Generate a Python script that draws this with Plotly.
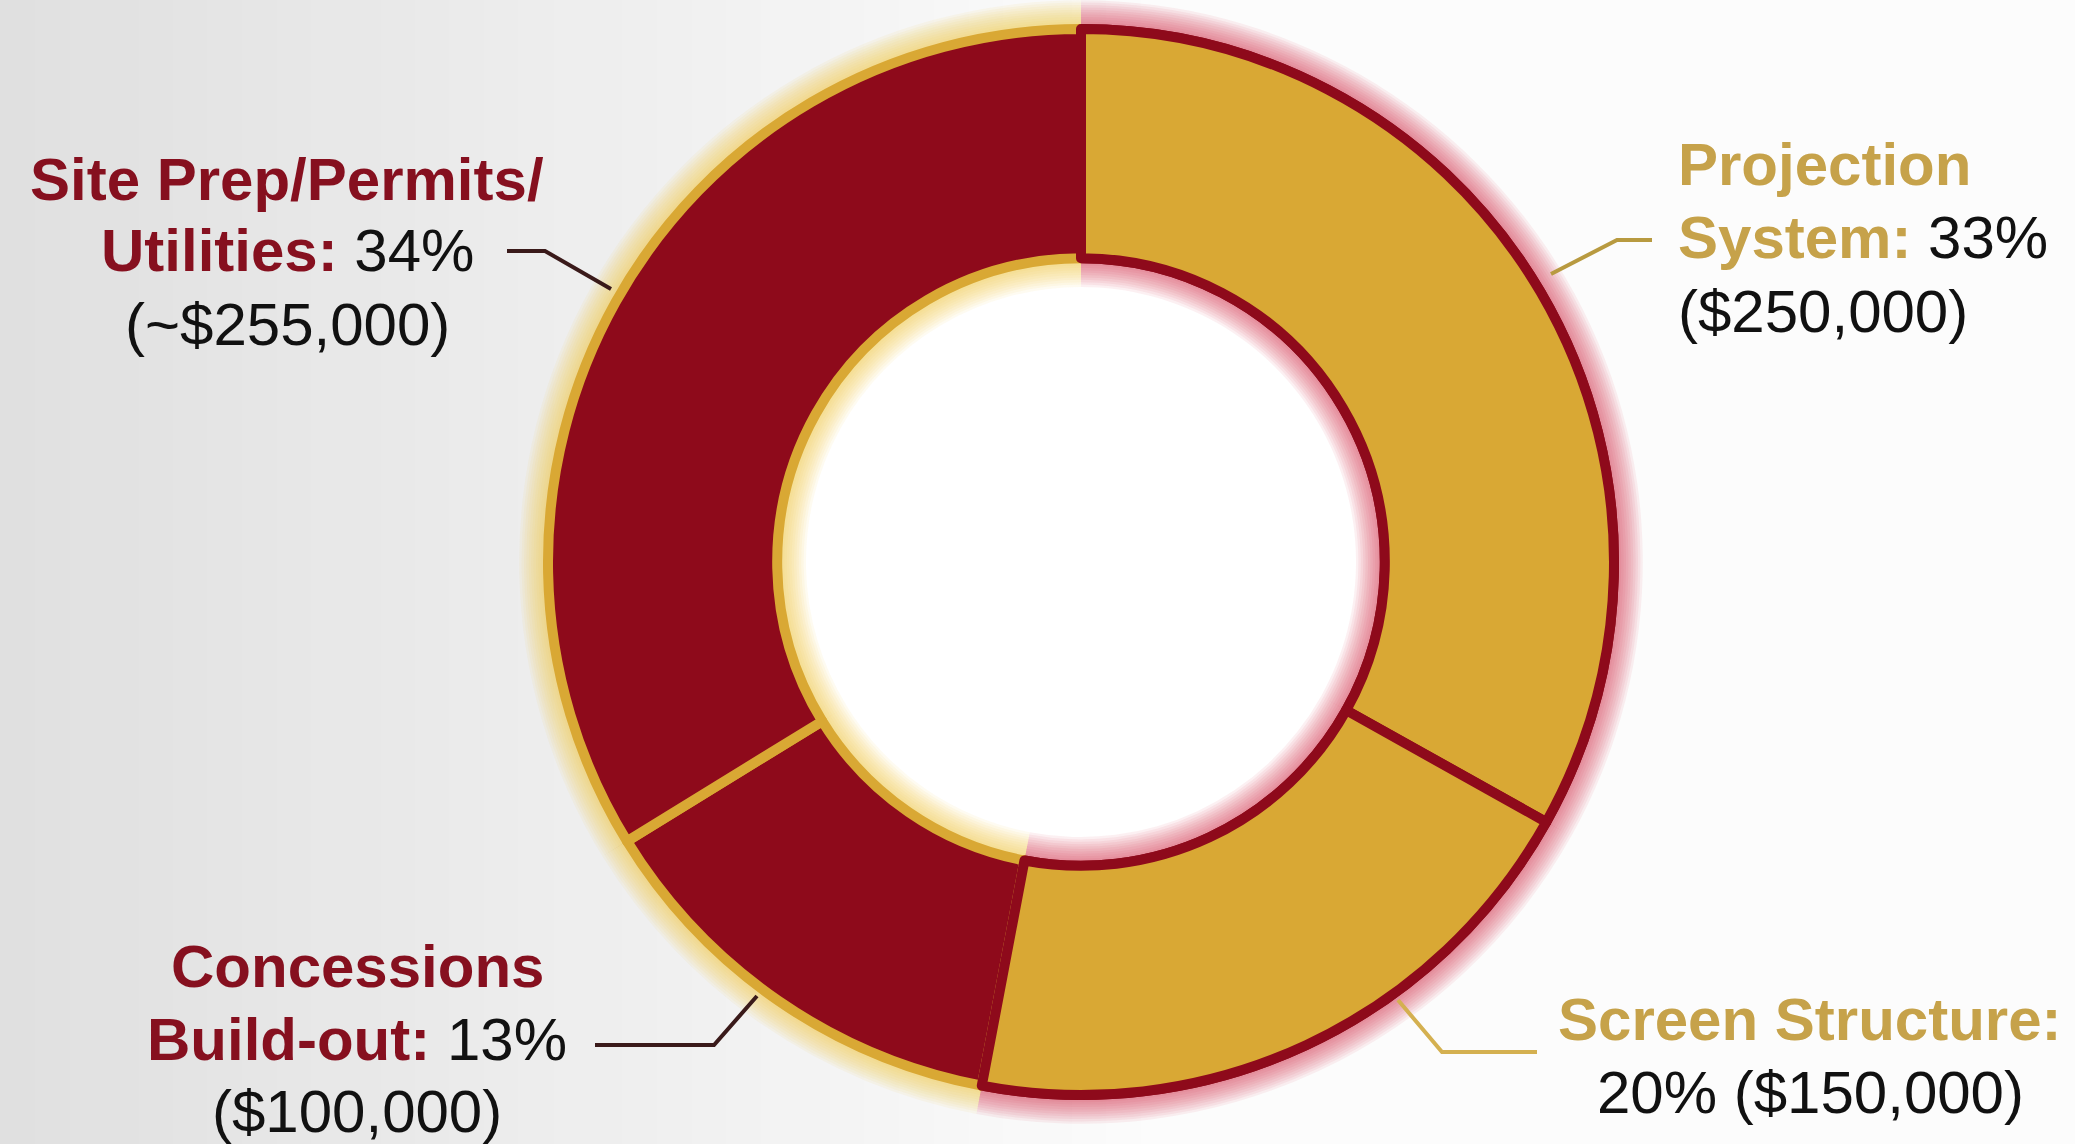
import plotly.graph_objects as go

# ---------------- data ----------------
categories = ["Projection System", "Screen Structure", "Concessions Build-out", "Site Prep/Permits/Utilities"]
costs = [250000, 150000, 100000, 255000]
pct_labels = ["33%", "20%", "13%", "34%"]
cost_labels = ["($250,000)", "($150,000)", "($100,000)", "(~$255,000)"]

# ---------------- style ----------------
W, H = 2075, 1144
GOLD = "#D9A834"
RED = "#8E0A1B"
GOLD_TXT = "#C6A24A"
RED_TXT = "#86101F"
slice_colors = [GOLD, GOLD, RED, RED]
line_colors = [RED, RED, GOLD, GOLD]
glow_colors = ["rgba(215,60,80,{a})", "rgba(215,60,80,{a})", "rgba(245,205,70,{a})", "rgba(245,205,70,{a})"]
CLEAR = "rgba(0,0,0,0)"

cx, cy = 1081, 562
R = 533
HOLE = 0.57
R_IN = R * HOLE


def dom(r):
    return dict(x=[(cx - r) / W, (cx + r) / W],
                y=[max(0, (H - cy - r) / H), min(1, (H - cy + r) / H)])


fig = go.Figure()

# soft glow layers behind the ring
for k in range(12, 0, -1):
    ro = R + 2.4 * k
    ri = max(R_IN - 2.4 * k, 1)
    fig.add_trace(go.Pie(
        values=costs, labels=categories, sort=False, direction="clockwise", rotation=0,
        hole=ri / ro, domain=dom(ro), textinfo="none", hoverinfo="skip",
        marker=dict(colors=[c.format(a=0.075) for c in glow_colors], line=dict(width=0)),
        showlegend=False,
    ))

# main ring
fig.add_trace(go.Pie(
    values=costs, labels=categories, sort=False, direction="clockwise", rotation=0,
    hole=HOLE, domain=dom(R), textinfo="none", hoverinfo="label+value+percent",
    marker=dict(colors=slice_colors, line=dict(color=line_colors, width=10)),
    showlegend=False,
))
# gold slices re-drawn on top so their dark-red outline wins at shared edges
fig.add_trace(go.Pie(
    values=costs, labels=categories, sort=False, direction="clockwise", rotation=0,
    hole=HOLE, domain=dom(R), textinfo="none", hoverinfo="skip",
    marker=dict(colors=[GOLD, GOLD, CLEAR, CLEAR],
                line=dict(color=[RED, RED, CLEAR, CLEAR], width=[10, 10, 0, 0])),
    showlegend=False,
))

# ---------------- background gradient ----------------
shapes = []
N = 60
for i in range(N):
    x0 = i / N
    x1 = (i + 1) / N
    t = min(1.0, (x0 + x1) / 2 / 0.55)
    g = int(224 + (252 - 224) * t)
    shapes.append(dict(type="rect", xref="paper", yref="paper", x0=x0, x1=x1 + 0.002, y0=0, y1=1,
                       fillcolor=f"rgb({g},{g},{g})", line=dict(width=0), layer="below"))
# white centre of the ring
shapes.append(dict(type="circle", xref="paper", yref="paper",
                   x0=(cx - R_IN) / W, x1=(cx + R_IN) / W,
                   y0=(H - cy - R_IN) / H, y1=(H - cy + R_IN) / H,
                   fillcolor="#ffffff", line=dict(width=0), layer="below"))


def P(x, y):
    return x / W, 1 - y / H


def leader(points, color):
    pts = [P(x, y) for x, y in points]
    path = "M " + " L ".join(f"{x:.5f},{y:.5f}" for x, y in pts)
    return dict(type="path", xref="paper", yref="paper", path=path,
                line=dict(color=color, width=4), layer="above")


shapes.append(leader([(507, 251), (545, 251), (611, 289)], "#3a1a1a"))
shapes.append(leader([(1652, 240), (1617, 240), (1551, 274)], "#B89A40"))
shapes.append(leader([(595, 1045), (714, 1045), (757, 996)], "#3a1a1a"))
shapes.append(leader([(1398, 1000), (1442, 1052), (1537, 1052)], "#D4B050"))

FS = 60
FONT = "Liberation Sans"


def name(txt, col):
    return f"<b><span style='color:{col}'>{txt}</span></b>"


label_lines = [
    # (lines, x, line centre ys, anchor)
    ([name("Site Prep/Permits/", RED_TXT),
      name("Utilities:", RED_TXT) + " " + pct_labels[3],
      cost_labels[3]], 287, [179, 251, 324], "center"),
    ([name("Projection", GOLD_TXT),
      name("System:", GOLD_TXT) + " " + pct_labels[0],
      cost_labels[0]], 1676, [165, 238, 311], "left"),
    ([name("Concessions", RED_TXT),
      name("Build-out:", RED_TXT) + " " + pct_labels[2],
      cost_labels[2]], 357, [966, 1039, 1111], "center"),
    ([name("Screen Structure:", GOLD_TXT),
      pct_labels[1] + " " + cost_labels[1]], 1810, [1019, 1092], "center"),
]

annotations = []
for lines, x, ys, anch in label_lines:
    for txt, y in zip(lines, ys):
        px, py = P(x, y)
        annotations.append(dict(text=txt, x=px, y=py, xref="paper", yref="paper",
                                xanchor=anch, yanchor="middle", showarrow=False,
                                font=dict(family=FONT, size=FS, color="#111111")))

fig.update_layout(
    width=W, height=H,
    margin=dict(l=0, r=0, t=0, b=0),
    paper_bgcolor="#f4f4f4",
    plot_bgcolor="rgba(0,0,0,0)",
    shapes=shapes,
    annotations=annotations,
    showlegend=False,
)

fig.write_html("out.html", config={"displayModeBar": False})
